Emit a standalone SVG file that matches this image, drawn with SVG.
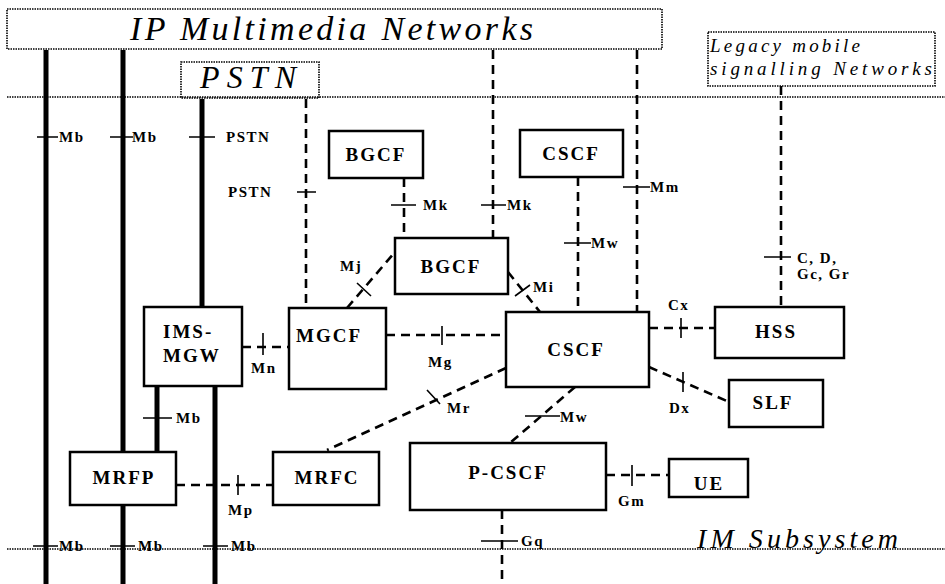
<svg xmlns="http://www.w3.org/2000/svg" width="945" height="584" viewBox="0 0 945 584">
<style>
.dot{fill:none;stroke:#000;stroke-width:1.6;stroke-dasharray:1.5 1}
.box{fill:#fff;stroke:#000;stroke-width:2.5}
.thick{stroke:#000;stroke-width:5;fill:none}
.dash{stroke:#000;stroke-width:2.6;fill:none;stroke-dasharray:9 6}
.tick{stroke:#000;stroke-width:1.6;fill:none}
.nl{font-family:"Liberation Serif","Times New Roman",serif;font-weight:bold;font-size:19px;letter-spacing:2px;text-anchor:middle}
.nls{font-family:"Liberation Serif","Times New Roman",serif;font-weight:bold;font-size:19px;letter-spacing:2px;text-anchor:start}
.lb{font-family:"Liberation Serif","Times New Roman",serif;font-weight:bold;font-size:15px;letter-spacing:1.5px}
.it{font-family:"Liberation Serif","Times New Roman",serif;font-style:italic}
</style>
<rect width="945" height="584" fill="#fff"/>
<g id="domains">
<rect class="dot" x="7" y="9" width="655" height="40"/>
<text class="it" x="130" y="40" font-size="34" textLength="403" lengthAdjust="spacing">IP Multimedia Networks</text>
<rect class="dot" x="181" y="62" width="138" height="36"/>
<text class="it" x="200" y="88" font-size="32" textLength="96" lengthAdjust="spacing">PSTN</text>
<rect class="dot" x="708" y="32" width="227" height="54"/>
<text class="it" x="710" y="52" font-size="19" textLength="150" lengthAdjust="spacing">Legacy mobile</text>
<text class="it" x="710" y="75" font-size="19" textLength="222" lengthAdjust="spacing">signalling Networks</text>
<line class="dot" x1="7" y1="97" x2="945" y2="97"/>
<line class="dot" x1="7" y1="549" x2="945" y2="549"/>
<text class="it" x="697" y="548" font-size="28" textLength="201" lengthAdjust="spacing">IM Subsystem</text>
</g>
<g id="connectors">
<line class="thick" x1="46" y1="50" x2="46" y2="584"/>
<line class="thick" x1="123" y1="50" x2="123" y2="584"/>
<line class="thick" x1="202" y1="99" x2="202" y2="307"/>
<line class="thick" x1="215" y1="386" x2="215" y2="584"/>
<line class="thick" x1="157" y1="386" x2="157" y2="452"/>
<line class="dash" x1="306" y1="99" x2="306" y2="308"/>
<line class="dash" x1="404" y1="178" x2="404" y2="238"/>
<line class="dash" x1="493" y1="50" x2="493" y2="238"/>
<line class="dash" x1="578" y1="177" x2="578" y2="312"/>
<line class="dash" x1="637" y1="50" x2="637" y2="312"/>
<line class="dash" x1="781" y1="86" x2="781" y2="307"/>
<line class="dash" x1="347" y1="308" x2="395" y2="252"/>
<line class="dash" x1="508" y1="272" x2="540" y2="312"/>
<line class="dash" x1="242" y1="347" x2="289" y2="347"/>
<line class="dash" x1="386" y1="335" x2="506" y2="335"/>
<line class="dash" x1="649" y1="328" x2="715" y2="328"/>
<line class="dash" x1="649" y1="367" x2="729" y2="402"/>
<line class="dash" x1="506" y1="368" x2="327" y2="450"/>
<line class="dash" x1="575" y1="387" x2="510" y2="443"/>
<line class="dash" x1="176" y1="485" x2="273" y2="485"/>
<line class="dash" x1="606" y1="475" x2="669" y2="475"/>
<line class="dash" x1="502" y1="510" x2="502" y2="584"/>
<path class="tick" d="M37 137H58M110 137H133M189 137H215M297 192H316M391 205H416M481 205H506M564 243H591M623 187H650M764 257H791M143 418H172M33 546H58M110 546H135M203 546H228M481 541H518M525 416H560"/>
<path class="tick" d="M263 333V355M442 326V345M681 318V338M683 372V392M238 475V495M632 465V486M357 283L371 296M515 296L530 285M427 390L440 404"/>
<text class="lb" x="59" y="142">Mb</text>
<text class="lb" x="132" y="142">Mb</text>
<text class="lb" x="226" y="142">PSTN</text>
<text class="lb" x="228" y="197">PSTN</text>
<text class="lb" x="423" y="210">Mk</text>
<text class="lb" x="507" y="210">Mk</text>
<text class="lb" x="650" y="192">Mm</text>
<text class="lb" x="591" y="248">Mw</text>
<text class="lb" x="340" y="271">Mj</text>
<text class="lb" x="533" y="292">Mi</text>
<text class="lb" x="797" y="263">C, D,</text>
<text class="lb" x="797" y="279">Gc, Gr</text>
<text class="lb" x="668" y="310">Cx</text>
<text class="lb" x="251" y="373">Mn</text>
<text class="lb" x="428" y="367">Mg</text>
<text class="lb" x="447" y="413">Mr</text>
<text class="lb" x="669" y="413">Dx</text>
<text class="lb" x="560" y="422">Mw</text>
<text class="lb" x="176" y="423">Mb</text>
<text class="lb" x="228" y="515">Mp</text>
<text class="lb" x="618" y="506">Gm</text>
<text class="lb" x="59" y="551">Mb</text>
<text class="lb" x="138" y="551">Mb</text>
<text class="lb" x="231" y="551">Mb</text>
<text class="lb" x="521" y="546">Gq</text>
</g>
<g id="bgcf-top"><rect class="box" x="329" y="131" width="94" height="47"/><text class="nl" x="376" y="161">BGCF</text></g>
<g id="cscf-top"><rect class="box" x="520" y="130" width="103" height="47"/><text class="nl" x="571" y="160">CSCF</text></g>
<g id="bgcf-mid"><rect class="box" x="395" y="238" width="113" height="56"/><text class="nl" x="451" y="273">BGCF</text></g>
<g id="ims-mgw"><rect class="box" x="144" y="307" width="98" height="79"/><text class="nls" x="163" y="338">IMS-</text><text class="nls" x="163" y="362">MGW</text></g>
<g id="mgcf"><rect class="box" x="289" y="308" width="97" height="81"/><text class="nls" x="296" y="342">MGCF</text></g>
<g id="cscf"><rect class="box" x="506" y="312" width="143" height="75"/><text class="nl" x="576" y="356" font-size="22">CSCF</text></g>
<g id="hss"><rect class="box" x="715" y="307" width="129" height="51"/><text class="nl" x="776" y="338">HSS</text></g>
<g id="slf"><rect class="box" x="729" y="380" width="94" height="47"/><text class="nl" x="773" y="409">SLF</text></g>
<g id="mrfp"><rect class="box" x="70" y="452" width="106" height="53"/><text class="nl" x="124" y="484">MRFP</text></g>
<g id="mrfc"><rect class="box" x="273" y="452" width="106" height="53"/><text class="nl" x="327" y="484">MRFC</text></g>
<g id="p-cscf"><rect class="box" x="410" y="443" width="196" height="67"/><text class="nl" x="508" y="479">P-CSCF</text></g>
<g id="ue"><rect class="box" x="669" y="459" width="79" height="38"/><text class="nl" x="709" y="490">UE</text></g>
</svg>
